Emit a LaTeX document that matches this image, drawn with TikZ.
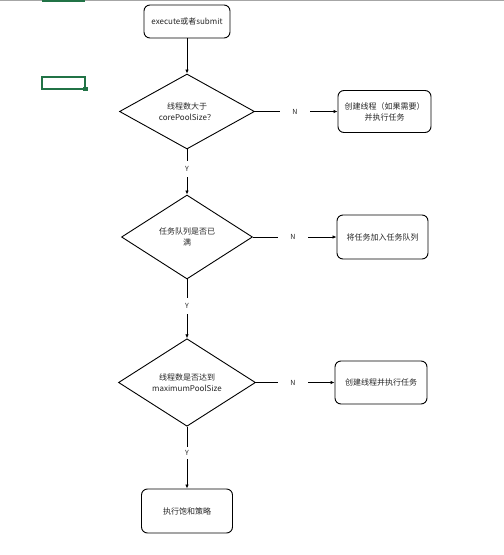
\documentclass[tikz,border=0pt]{standalone}
\usepackage{fontspec}
\newfontfamily\cjkfont{Noto Sans CJK SC}
\usepackage{tikz}
\usetikzlibrary{arrows.meta,positioning,shapes.geometric}

\definecolor{xlgreen}{RGB}{33,115,70}

\begin{document}
\begin{tikzpicture}[
    x=1pt,y=-1pt,
    box/.style={draw=black, rounded corners=6pt, fill=white, line width=0.9pt, inner sep=1pt, font=\cjkfont\fontsize{8}{11}\selectfont, text=black!85, align=center},
    cond/.style={draw=black, diamond, fill=white, line width=0.9pt, inner sep=0pt, font=\cjkfont\fontsize{8}{11}\selectfont, text=black!85, align=center},
    tag/.style={font=\cjkfont\fontsize{7}{8}\selectfont, text=black!85, inner sep=0pt},
    edge/.style={-{Latex[length=4pt,width=3.5pt]}, draw=black, line width=0.8pt},
    plain/.style={draw=black, line width=0.8pt}
  ]
    \useasboundingbox (0,0) rectangle (504,555);

    % sheet leftovers
    \draw[black!35, line width=1pt] (0,0.5) -- (504,0.5);
    \draw[xlgreen, line width=2pt] (42,1) -- (85,1);
    \draw[xlgreen, line width=1.5pt] (42,77) rectangle (85,89);
    \fill[xlgreen] (83,86.5) rectangle (87.5,90.5);

    \node[box, minimum width=86pt, minimum height=33pt] (start) at (187,21.5) {execute或者submit};

    \node[cond, minimum width=135pt, minimum height=75pt] (d1) at (187,111.5) {线程数大于\\corePoolSize？};
    \node[box, minimum width=93pt, minimum height=42pt] (b1) at (384.5,111.5) {创建线程（如果需要）\\并执行任务};
    \node[tag, minimum width=30pt] (n1) at (295,111.5) {N};
    \node[tag, minimum height=16pt] (y1) at (187,169) {Y};

    \node[cond, minimum width=131pt, minimum height=84pt] (d2) at (187,237) {任务队列是否已\\满};
    \node[box, minimum width=91pt, minimum height=44pt] (b2) at (382.5,237) {将任务加入任务队列};
    \node[tag, minimum width=30pt] (n2) at (293,237) {N};
    \node[tag, minimum height=16pt] (y2) at (187,306) {Y};

    \node[cond, minimum width=137pt, minimum height=79pt] (d3) at (187,382.5) {线程数是否达到\\maximumPoolSize};
    \node[box, minimum width=92pt, minimum height=43pt] (b3) at (381,382.5) {创建线程并执行任务};
    \node[tag, minimum width=30pt] (n3) at (293,382.5) {N};
    \node[tag, minimum height=12pt] (y3) at (187,453) {Y};

    \node[box, minimum width=91pt, minimum height=44pt] (b4) at (187,511) {执行饱和策略};

    \draw[edge] (start) -- (d1);
    \draw[plain] (d1.east) -- (n1);
    \draw[edge] (n1) -- (b1);
    \draw[plain] (d1.south) -- (y1);
    \draw[edge] (y1) -- (d2.north);
    \draw[plain] (d2.east) -- (n2);
    \draw[edge] (n2) -- (b2);
    \draw[plain] (d2.south) -- (y2);
    \draw[edge] (y2) -- (d3.north);
    \draw[plain] (d3.east) -- (n3);
    \draw[edge] (n3) -- (b3);
    \draw[plain] (d3.south) -- (y3);
    \draw[edge] (y3) -- (b4);
\end{tikzpicture}
\end{document}
